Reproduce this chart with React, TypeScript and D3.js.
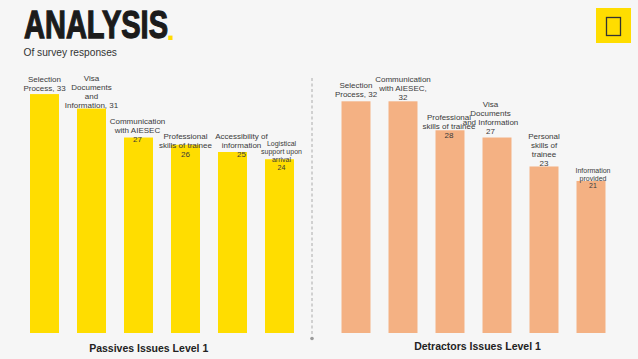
import React, { useEffect, useRef } from "react";
import * as d3 from "d3";

// passives chart
const passiveCategories = [
  "Selection Process",
  "Visa Documents and Information",
  "Communication with AIESEC",
  "Professional skills of trainee",
  "Accessibility of information",
  "Logistical support upon arrival",
];
const passiveValues = [33, 31, 27, 26, 25, 24];
const passiveLabels = [
  ["Selection", "Process, 33"],
  ["Visa", "Documents", "and", "Information, 31"],
  ["Communication", "with AIESEC", "27"],
  ["Professional", "skills of trainee", "26"],
  ["Accessibility of", "information", "25"],
  ["Logistical", "support upon", "arrival", "24"],
];

// detractors chart
const detractorCategories = [
  "Selection Process",
  "Communication with AIESEC",
  "Professional skills of trainee",
  "Visa Documents and Information",
  "Personal skills of trainee",
  "Information provided",
];
const detractorValues = [32, 32, 28, 27, 23, 21];
const detractorLabels = [
  ["Selection", "Process, 32"],
  ["Communication", "with AIESEC,", "32"],
  ["Professional", "skills of trainee", "28"],
  ["Visa", "Documents", "and Information", "27"],
  ["Personal", "skills of", "trainee", "23"],
  ["Information", "provided", "21"],
];

// label nudges, like the hand placed labels in the slide
const passiveNudge = [
  { dx: 0, dy: -6, size: 8 },
  { dx: 0, dy: -3, size: 8 },
  { dx: -1, dy: 1.5, size: 8 },
  { dx: 0, dy: 9, size: 8 },
  { dx: 9, dy: 2, size: 8 },
  { dx: 2, dy: 8, size: 7 },
];
const detractorNudge = [
  { dx: 0, dy: -7.5, size: 8 },
  { dx: 0, dy: -4.5, size: 8 },
  { dx: -1, dy: 5, size: 8 },
  { dx: -6.5, dy: -6, size: 8 },
  { dx: 0, dy: -3.5, size: 8 },
  { dx: 2, dy: 5, size: 7 },
];

const W = 638;
const H = 359;
const FONT = "'Liberation Sans', Arial, sans-serif";

function App() {
  const ref = useRef<SVGSVGElement | null>(null);

  useEffect(() => {
    const svg = d3.select(ref.current);
    svg.selectAll("*").remove();

    svg.append("rect")
      .attr("width", W)
      .attr("height", H)
      .attr("fill", "#f6f6f6");

    // title
    svg.append("text")
      .attr("x", 24)
      .attr("y", 37.7)
      .attr("font-family", "'Liberation Sans Narrow', 'Liberation Sans', sans-serif")
      .attr("font-weight", "bold")
      .attr("font-size", 38.7)
      .attr("textLength", 144)
      .attr("lengthAdjust", "spacingAndGlyphs")
      .attr("fill", "#1b1b1b")
      .attr("stroke", "#1b1b1b")
      .attr("stroke-width", 1.3)
      .text("ANALYSIS");

    svg.append("text")
      .attr("x", 166.5)
      .attr("y", 40.3)
      .attr("font-family", "'Liberation Sans', sans-serif")
      .attr("font-weight", "bold")
      .attr("font-size", 30)
      .attr("fill", "#FFDD00")
      .text(".");

    svg.append("text")
      .attr("x", 23.5)
      .attr("y", 55.5)
      .attr("font-family", FONT)
      .attr("font-size", 10.2)
      .attr("fill", "#333")
      .text("Of survey responses");

    // icon top right
    svg.append("rect")
      .attr("x", 596)
      .attr("y", 8)
      .attr("width", 35)
      .attr("height", 35)
      .attr("fill", "#FFDD00");
    svg.append("rect")
      .attr("x", 606.5)
      .attr("y", 17.5)
      .attr("width", 14)
      .attr("height", 18)
      .attr("fill", "none")
      .attr("stroke", "#333")
      .attr("stroke-width", 1.3);

    // shared value scale
    let yScale = d3.scaleLinear()
      .domain([0, 35])
      .range([333, 333 - 35 * 7.24]);

    const drawChart = (
      categories: string[],
      values: number[],
      labels: string[][],
      nudge: { dx: number; dy: number; size: number }[],
      x0: number,
      color: string,
      title: string,
      titleX: number,
      titleY: number
    ) => {
      let xScale = d3.scaleBand<string>()
        .domain(categories)
        .range([x0, x0 + 300])
        .padding(0.383);

      let g = svg.append("g");

      g.selectAll("rect.bar")
        .data(values)
        .enter()
        .append("rect")
        .attr("class", "bar")
        .attr("x", (d, i) => xScale(categories[i]) as number)
        .attr("y", (d) => yScale(d))
        .attr("width", xScale.bandwidth())
        .attr("height", (d) => yScale(0) - yScale(d))
        .attr("fill", color);

      values.forEach((v, i) => {
        let n = nudge[i];
        let lines = labels[i];
        let lh = n.size * 1.12;
        let cx = (xScale(categories[i]) as number) + xScale.bandwidth() / 2 + n.dx;
        let lastCenter = yScale(v) + n.dy;
        let t = g.append("text")
          .attr("text-anchor", "middle")
          .attr("font-family", FONT)
          .attr("font-size", n.size)
          .attr("fill", "#3a3a3a");
        lines.forEach((line, j) => {
          t.append("tspan")
            .attr("x", cx)
            .attr("y", lastCenter - (lines.length - 1 - j) * lh + n.size * 0.35)
            .text(line);
        });
      });

      svg.append("text")
        .attr("x", titleX)
        .attr("y", titleY)
        .attr("text-anchor", "middle")
        .attr("font-family", FONT)
        .attr("font-weight", "bold")
        .attr("font-size", 10.5)
        .attr("fill", "#222")
        .text(title);
    };

    drawChart(passiveCategories, passiveValues, passiveLabels, passiveNudge,
      12, "#FFDD00", "Passives Issues Level 1", 148.7, 351.5);
    drawChart(detractorCategories, detractorValues, detractorLabels, detractorNudge,
      323.5, "#F4B183", "Detractors Issues Level 1", 477.5, 349.5);

    // divider
    svg.append("line")
      .attr("x1", 312)
      .attr("x2", 312)
      .attr("y1", 78)
      .attr("y2", 335)
      .attr("stroke", "#9a9a9a")
      .attr("stroke-width", 0.8)
      .attr("stroke-dasharray", "3,2.5");
    svg.append("circle")
      .attr("cx", 312)
      .attr("cy", 338.5)
      .attr("r", 1.8)
      .attr("fill", "#9a9a9a");
  }, []);

  return (
    <svg
      ref={ref}
      width={W}
      height={H}
      style={{ position: "absolute", left: 0, top: 0, display: "block" }}
    />
  );
}

export default App;
